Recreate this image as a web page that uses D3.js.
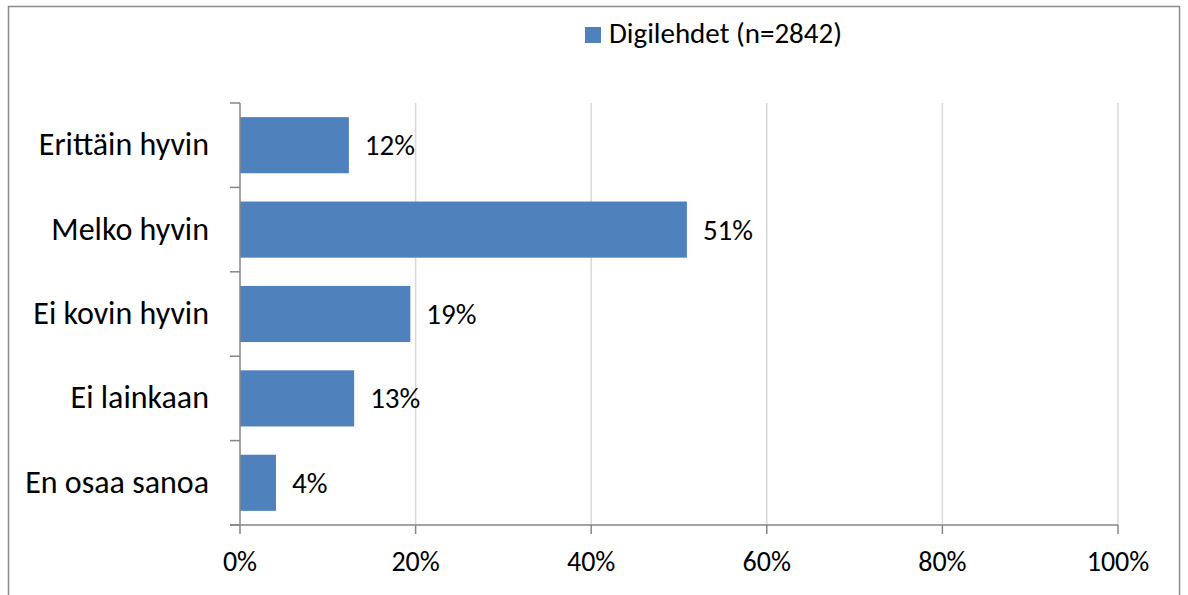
<!DOCTYPE html>
<html>
<head>
<meta charset="utf-8">
<script src="https://cdn.jsdelivr.net/npm/d3@7"></script>
<style>
  html, body { margin: 0; padding: 0; background: #fff; }
  svg { display: block; }
  text { font-family: Carlito, Calibri, Lato, "Open Sans", sans-serif; fill: #000; }
</style>
</head>
<body>
<svg id="chart" width="1188" height="595"></svg>
<script>
// Survey answers, share of respondents (%)
const categories = ["Erittäin hyvin", "Melko hyvin", "Ei kovin hyvin", "Ei lainkaan", "En osaa sanoa"];
const values = [12.4, 50.9, 19.4, 13.0, 4.1];
const seriesName = "Digilehdet (n=2842)";
const xTicks = [0, 20, 40, 60, 80, 100];

const svg = d3.select("#chart");
const barColor = "#4F81BD";

// Outer chart frame
svg.append("rect")
  .attr("x", 8.5).attr("y", 6.5)
  .attr("width", 1171).attr("height", 620)
  .attr("fill", "#fff")
  .attr("stroke", "#8c8c8c").attr("stroke-width", 1.5);

const x = d3.scaleLinear().domain([0, 100]).range([240, 1118]);
const y = d3.scaleBand().domain(categories).range([103, 525]).paddingInner(0.335).paddingOuter(0.1675);

const data = categories.map((c, i) => ({ cat: c, v: values[i] }));

// Vertical gridlines
svg.append("g")
  .selectAll("line")
  .data(xTicks.filter(t => t > 0))
  .join("line")
  .attr("x1", d => x(d)).attr("x2", d => x(d))
  .attr("y1", 103).attr("y2", 525)
  .attr("stroke", "#d9d9d9").attr("stroke-width", 1.5);

// Bars
svg.append("g")
  .selectAll("rect")
  .data(data)
  .join("rect")
  .attr("x", x(0))
  .attr("y", d => y(d.cat))
  .attr("width", d => x(d.v) - x(0))
  .attr("height", y.bandwidth())
  .attr("fill", barColor);

// Value labels
svg.append("g")
  .selectAll("text")
  .data(data)
  .join("text")
  .attr("x", d => x(d.v) + 16)
  .attr("y", d => y(d.cat) + y.bandwidth() / 2 + 10)
  .attr("font-size", 29)
  .text(d => d3.format(".0f")(d.v) + "%");

// Category axis (left)
const yAxis = svg.append("g")
  .attr("transform", `translate(${x(0)},0)`);
yAxis.append("line")
  .attr("x1", 0).attr("x2", 0).attr("y1", 103).attr("y2", 525)
  .attr("stroke", "#868686").attr("stroke-width", 1.5);
const catEdges = d3.range(categories.length + 1).map(i => 103 + i * (525 - 103) / categories.length);
yAxis.selectAll("line.tick")
  .data(catEdges)
  .join("line")
  .attr("class", "tick")
  .attr("x1", -10).attr("x2", 0)
  .attr("y1", d => d).attr("y2", d => d)
  .attr("stroke", "#868686").attr("stroke-width", 1.5);
yAxis.selectAll("text")
  .data(categories)
  .join("text")
  .attr("x", -31)
  .attr("y", d => y(d) + y.bandwidth() / 2 + 10)
  .attr("text-anchor", "end")
  .attr("font-size", 32)
  .text(d => d);

// Value axis (bottom)
const xAxis = svg.append("g");
xAxis.append("line")
  .attr("x1", x(0) - 10).attr("x2", x(100)).attr("y1", 525).attr("y2", 525)
  .attr("stroke", "#868686").attr("stroke-width", 1.5);
xAxis.selectAll("line.tick")
  .data(xTicks)
  .join("line")
  .attr("class", "tick")
  .attr("x1", d => x(d)).attr("x2", d => x(d))
  .attr("y1", 525).attr("y2", 534)
  .attr("stroke", "#868686").attr("stroke-width", 1.5);
xAxis.selectAll("text")
  .data(xTicks)
  .join("text")
  .attr("x", d => x(d))
  .attr("y", 571)
  .attr("text-anchor", "middle")
  .attr("font-size", 28)
  .text(d => d + "%");

// Legend
const legend = svg.append("g");
legend.append("rect")
  .attr("x", 585).attr("y", 27).attr("width", 16).attr("height", 16)
  .attr("fill", barColor);
legend.append("text")
  .attr("x", 609).attr("y", 43)
  .attr("font-size", 29)
  .text(seriesName);
</script>
</body>
</html>
